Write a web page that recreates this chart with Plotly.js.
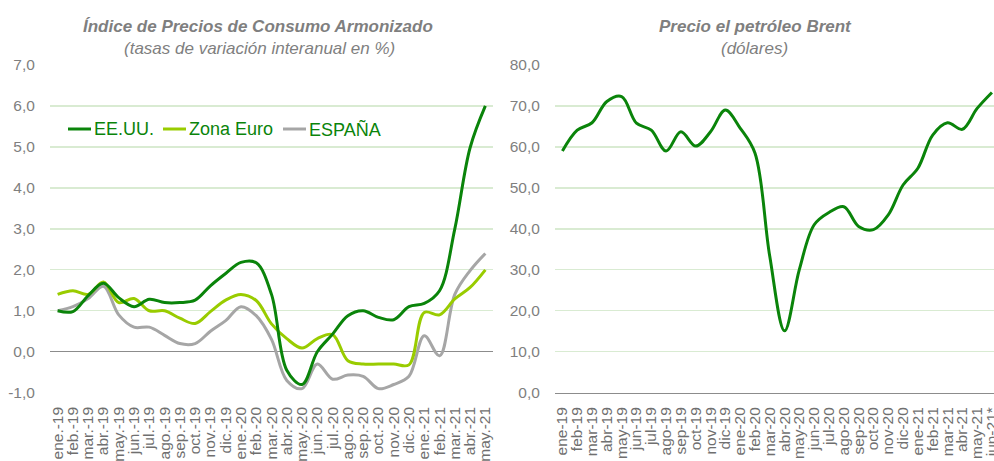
<!DOCTYPE html>
<html>
<head>
<meta charset="utf-8">
<script src="https://cdn.plot.ly/plotly-3.0.1.min.js"></script>
<style>html,body{margin:0;padding:0;background:#fff;}#chart{width:994px;height:461px;}</style>
</head>
<body>
<div id="chart"></div>
<script>
// ---- data ----
const mesesIPC = ["ene.-19","feb.-19","mar.-19","abr.-19","may.-19","jun.-19","jul.-19","ago.-19","sep.-19","oct.-19","nov.-19","dic.-19",
  "ene.-20","feb.-20","mar.-20","abr.-20","may.-20","jun.-20","jul.-20","ago.-20","sep.-20","oct.-20","nov.-20","dic.-20",
  "ene.-21","feb.-21","mar.-21","abr.-21","may.-21"];
const eeuu = [1.0, 0.98, 1.37, 1.67, 1.32, 1.1, 1.28, 1.2, 1.2, 1.26, 1.61, 1.91,
  2.18, 2.17, 1.4, -0.45, -0.8, 0.0, 0.43, 0.88, 1.0, 0.84, 0.78, 1.1,
  1.18, 1.49, 3.0, 4.98, 6.0];
const zonaEuro = [1.4, 1.49, 1.4, 1.7, 1.2, 1.3, 1.0, 1.0, 0.82, 0.69, 0.98, 1.26,
  1.4, 1.25, 0.68, 0.32, 0.09, 0.32, 0.42, -0.22, -0.3, -0.3, -0.3, -0.32,
  0.96, 0.9, 1.29, 1.57, 2.0];
const espana = [1.0, 1.1, 1.3, 1.6, 0.9, 0.6, 0.6, 0.4, 0.2, 0.2, 0.5, 0.76,
  1.1, 0.88, 0.3, -0.7, -0.9, -0.3, -0.67, -0.57, -0.6, -0.9, -0.8, -0.6,
  0.39, -0.1, 1.4, 1.98, 2.4];
const mesesBrent = ["ene-19","feb-19","mar-19","abr-19","may-19","jun-19","jul-19","ago-19","sep-19","oct-19","nov-19","dic-19",
  "ene-20","feb-20","mar-20","abr-20","may-20","jun-20","jul-20","ago-20","sep-20","oct-20","nov-20","dic-20",
  "ene-21","feb-21","mar-21","abr-21","may-21","jun-21*"];
const brent = [59.0, 64.1, 65.9, 71.1, 72.3, 65.8, 64.1, 59.0, 63.7, 60.2, 63.7, 69.0,
  64.6, 58.5, 33.3, 15.1, 30.1, 41.0, 44.0, 45.4, 40.6, 39.8, 43.4, 50.7,
  54.8, 62.9, 65.9, 64.3, 69.4, 73.3];
const seriesNames = ["EE.UU.", "Zona Euro", "ESPAÑA"];
const yTicksIPC = [-1, 0, 1, 2, 3, 4, 5, 6, 7];
const yTicksBrent = [0, 10, 20, 30, 40, 50, 60, 70, 80];

// ---- styles ----
const FONT = '"Liberation Sans", Arial, sans-serif';
const GRID = '#d9ebd2';
const TICKCOL = '#7f7f7f';
const colors = ['#0a840a', '#99cc00', '#a6a6a6'];
const W = 994, H = 461;
const px = x => x / W;
const py = y => 1 - y / H;
const fmt = v => v.toFixed(1).replace('.', ',');

const ipcSeries = [eeuu, zonaEuro, espana];
const traces = ipcSeries.map((vals, i) => ({
  x: mesesIPC, y: vals, type: 'scatter', mode: 'lines', name: seriesNames[i],
  line: {color: colors[i], width: 3, shape: 'spline', smoothing: 1},
  xaxis: 'x', yaxis: 'y', showlegend: false, hoverinfo: 'skip'
}));
traces.reverse();
traces.push({
  x: mesesBrent, y: brent, type: 'scatter', mode: 'lines', name: 'Brent',
  line: {color: '#0a840a', width: 3, shape: 'spline', smoothing: 1},
  xaxis: 'x2', yaxis: 'y2', showlegend: false, hoverinfo: 'skip'
});

const yDom = [py(392.7), py(65)];
const tickFont = {family: FONT, size: 15.5, color: TICKCOL};
const xTickFont = {family: FONT, size: 15.5, color: '#6f6f6f'};

// legend built from series names
const legX = [[68, 91, 92], [163, 186, 187], [283, 306, 307]];
const shapes = [];
const annotations = [];
seriesNames.forEach((n, i) => {
  shapes.push({type: 'line', xref: 'paper', yref: 'paper', x0: px(legX[i][0]), x1: px(legX[i][1]),
    y0: py(129), y1: py(129), line: {color: colors[i], width: 3}});
  annotations.push({xref: 'paper', yref: 'paper', x: px(legX[i][2]), y: py(129), xanchor: 'left', yanchor: 'middle',
    text: n, showarrow: false, font: {family: FONT, size: 18, color: '#0a840a'}});
});
annotations.push(
  {xref: 'paper', yref: 'paper', x: px(258), y: py(26), xanchor: 'center', yanchor: 'middle', showarrow: false,
   text: '<b><i>Índice de Precios de Consumo Armonizado</i></b>', font: {family: FONT, size: 17, color: '#7f7f7f'}},
  {xref: 'paper', yref: 'paper', x: px(259), y: py(48), xanchor: 'center', yanchor: 'middle', showarrow: false,
   text: '<i>(tasas de variación interanual en %)</i>', font: {family: FONT, size: 17, color: '#7f7f7f'}},
  {xref: 'paper', yref: 'paper', x: px(755), y: py(26), xanchor: 'center', yanchor: 'middle', showarrow: false,
   text: '<b><i>Precio el petróleo Brent</i></b>', font: {family: FONT, size: 17, color: '#7f7f7f'}},
  {xref: 'paper', yref: 'paper', x: px(754), y: py(48), xanchor: 'center', yanchor: 'middle', showarrow: false,
   text: '<i>(dólares)</i>', font: {family: FONT, size: 17, color: '#7f7f7f'}}
);

const layout = {
  width: W, height: H,
  margin: {l: 0, r: 0, t: 0, b: 0},
  paper_bgcolor: '#fff', plot_bgcolor: '#fff',
  font: {family: FONT},
  showlegend: false,
  xaxis: {domain: [px(50), px(493)], type: 'category', range: [-0.5, mesesIPC.length - 0.5],
    tickmode: 'array', tickvals: mesesIPC, ticktext: mesesIPC,
    showgrid: false, zeroline: false, showline: false, tickangle: -90, tickfont: xTickFont,
    ticks: 'outside', ticklen: 7, tickcolor: 'rgba(0,0,0,0)', automargin: false, fixedrange: true},
  yaxis: {domain: yDom, range: [-1, 7], tickmode: 'array', tickvals: yTicksIPC, ticktext: yTicksIPC.map(fmt),
    showgrid: true, gridcolor: GRID, gridwidth: 1.3,
    zeroline: true, zerolinecolor: '#8c8c8c', zerolinewidth: 1.3, showline: false, tickfont: tickFont,
    ticks: 'outside', ticklen: 11, tickcolor: 'rgba(0,0,0,0)', automargin: false, fixedrange: true},
  xaxis2: {domain: [px(555), 1], type: 'category', range: [-0.5, 29.14], anchor: 'y2',
    tickmode: 'array', tickvals: mesesBrent, ticktext: mesesBrent,
    showgrid: false, zeroline: false, showline: true, linecolor: '#8c8c8c', linewidth: 1.3, tickangle: -90, tickfont: xTickFont,
    ticks: 'outside', ticklen: 7, tickcolor: 'rgba(0,0,0,0)', automargin: false, fixedrange: true},
  yaxis2: {domain: yDom, range: [0, 80], tickmode: 'array', tickvals: yTicksBrent, ticktext: yTicksBrent.map(fmt),
    anchor: 'x2', showgrid: true, gridcolor: GRID, gridwidth: 1.3,
    zeroline: false, showline: false, tickfont: tickFont,
    ticks: 'outside', ticklen: 11, tickcolor: 'rgba(0,0,0,0)', automargin: false, fixedrange: true},
  shapes: shapes,
  annotations: annotations
};

Plotly.newPlot('chart', traces, layout, {displayModeBar: false, staticPlot: true});
</script>
</body>
</html>
